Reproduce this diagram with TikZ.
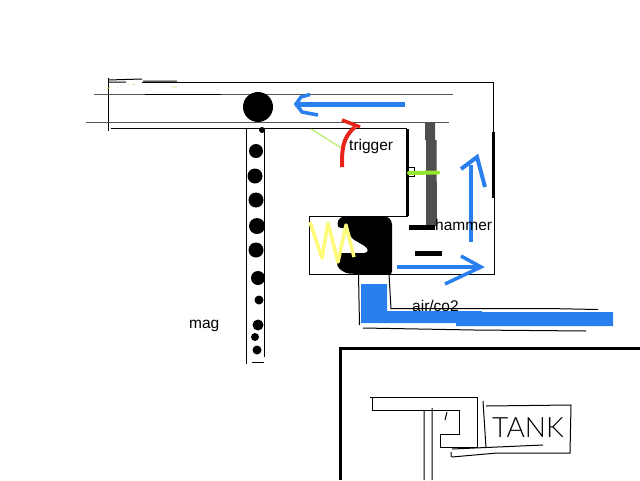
\documentclass[tikz,border=0pt]{standalone}
\usepackage{fontspec}
\setmainfont{Liberation Sans}
\newfontfamily\tankfont{Lato}[UprightFont=* Light]
\definecolor{arrowblue}{HTML}{2A7FEE}
\definecolor{hammergray}{HTML}{4F4F4F}
\definecolor{linegray}{HTML}{555555}
\definecolor{trigred}{HTML}{E8231A}
\definecolor{limegreen}{HTML}{96E62E}
\definecolor{softyellow}{HTML}{FFFB7A}
\tikzset{
  ink/.style={draw=black,line width=1pt},
  heavyink/.style={draw=black,line width=2.2pt},
  rail/.style={draw=linegray,line width=1pt},
  bluearrow/.style={draw=arrowblue,line width=4pt,line join=miter},
  pellet/.style={fill=black},
  lbl/.style={inner sep=0pt,anchor=west,font=\fontsize{15.5}{16}\selectfont},
}
\begin{document}
\begin{tikzpicture}[x=1pt,y=-1pt]
\useasboundingbox (0,0) rectangle (640,480);
\fill[white] (0,0) rectangle (640,480);
% sketch marks top left
\draw[ink] (108,78) -- (108,131);
\draw[ink] (108,80) -- (142,79) (108,82) -- (126,82) (143,81) -- (177,81);
\draw[limegreen,line width=.8pt,opacity=.7] (107,89) -- (110,87) (117,87) -- (118,87) (129,84) -- (129,85) (133,84) -- (135,85) (172,87) -- (177,87);
% barrel
\draw[ink] (142,82) -- (494,82);
\draw[rail] (94,94) -- (453,94);
\draw[ink] (145,94) -- (221,94);
\draw[rail] (86,122) -- (449,122);
\draw[ink] (111,128.5) -- (407,128.5);
\fill[pellet] (258,107) circle (15);
\fill[pellet] (262,130) circle (3);
% magazine
\draw[ink] (246,128) -- (246,364);
\draw[ink] (264.5,128) -- (264.5,357);
\draw[ink] (252,362) -- (264,362);
\foreach \px/\py/\pr in {256/151/7,255/176/7.5,256/200/7.5,257/226/8,256/250/7.5,258/278/7,259/300/4.5,258/325/5.5,255/337/4,257/350/4.5}
  \fill[pellet] (\px,\py) circle (\pr);
\node[lbl] (mag) at (189,326) {mag};
% outer wall
\draw[ink] (493.5,82) -- (493.5,132);
\draw[heavyink] (493.5,132) -- (493.5,198);
\draw[ink] (494,198) -- (494,275);
\draw[heavyink] (407.5,129) -- (407.5,216);
% hammer
\fill[hammergray] (425,122) -- (435,122) -- (435,140) -- (436.5,140) -- (437,226) -- (426,226) -- (426,140) -- (425,140) -- cycle;
\draw[ink,line width=.6pt] (408,167) -- (414,167) -- (414,176) -- (406,176);
\draw[limegreen,line width=4pt,line cap=round] (409,173) -- (438,172.5);
\draw[black,line width=5pt] (409,227) -- (435,227);
\draw[black,line width=5pt] (415,253) -- (442,253);
% top arrow
\draw[bluearrow,line width=5pt] (295,104) -- (405,104);
\draw[bluearrow,line width=3.5pt] (310,94.5) -- (301,97) -- (296,104) -- (302,112) -- (318,115);
% trigger
\draw[limegreen,line width=1.2pt,opacity=.7] (311,129) -- (343,149);
\draw[trigred,line width=4pt] (342,167) .. controls (342,150) and (342,138) .. (355,127);
\draw[trigred,line width=3.5pt] (342,120) -- (360,127);
\node[lbl] (trigger) at (349,146) {trigger};
% vertical arrow
\draw[bluearrow] (470.7,242) -- (470.7,165);
\draw[bluearrow] (461,169) -- (477,157) -- (485,187);
% chamber
\draw[ink] (309,216) -- (408,216);
\draw[ink] (309,216) -- (309,274) -- (495,274);
\fill[black,rounded corners=3.5pt] (337.5,228) -- (337.5,220) -- (343,216) -- (387,216) -- (392,221) -- (392,275) -- (346,273.5) -- (337,267) -- (337,253) -- (368,253) -- (368,248) -- (351,238) -- (348,228) -- cycle;
\draw[softyellow,line width=3.5pt,line join=round] (310,222) -- (322,258) -- (328,223) -- (338,262) -- (346,225) -- (354,257);
\node[lbl] (hammer) at (435,225) {hammer};
% horizontal arrow
\draw[bluearrow] (397,267) -- (480,267);
\draw[bluearrow,line width=3.5pt] (461,256) -- (481,267) -- (445,284);
% air line
\fill[arrowblue] (361,284) -- (387,284) -- (387,311) -- (482,311) -- (482,312) -- (613,312) -- (613,326) -- (456,326) -- (456,323) -- (361,323) -- cycle;
\draw[ink] (358.5,274) -- (359.5,325);
\draw[ink] (389,274) -- (391,309);
\draw[ink] (391,308.5) -- (548,308.5) -- (598,309.5);
\draw[ink] (363,328) -- (474,330) -- (586,331);
\node[lbl] (air) at (412,306) {air/co2};
% tank
\draw[black,line width=3pt] (340,480) -- (340,348) -- (640,348);
\draw[ink] (370,397.5) -- (477,397.5) -- (477,447) -- (440,447) -- (440,434) -- (459,434) -- (459,410) -- (372,410) -- (372,397);
\draw[ink] (424,410) -- (424,480) (432,408) -- (432,480) (447,412) -- (445,420);
\draw[ink] (483,401) -- (486,448) (486,406) -- (571,405) -- (570,453) -- (497,453) -- (452,457) (451,452) -- (451,457) (452,449) -- (543,445);
\node[inner sep=0pt,font=\tankfont\fontsize{28}{28}\selectfont] (tank) at (528,428) {TANK};
\end{tikzpicture}
\end{document}
